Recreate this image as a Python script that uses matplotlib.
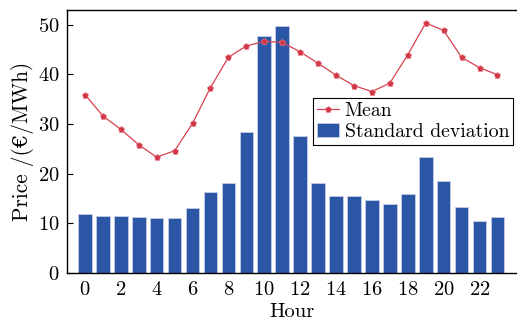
import matplotlib
matplotlib.use("Agg")
import matplotlib.pyplot as plt
import numpy as np

hours = list(range(24))
std_dev = [11.8, 11.5, 11.5, 11.25, 11.0, 11.0, 13.1, 16.2, 18.1, 28.4, 47.7, 49.8,
           27.6, 18.1, 15.5, 15.5, 14.6, 13.9, 15.8, 23.3, 18.5, 13.3, 10.5, 11.2]
mean = [35.9, 31.6, 28.9, 25.8, 23.3, 24.6, 30.1, 37.3, 43.4, 45.7, 46.6, 46.4,
        44.5, 42.2, 39.8, 37.7, 36.5, 38.2, 43.9, 50.3, 48.8, 43.4, 41.3, 39.9]
xticks = list(range(0, 24, 2))
yticks = [0, 10, 20, 30, 40, 50]

plt.rcParams['font.family'] = ['cmr10', 'DejaVu Serif']
plt.rcParams['axes.formatter.use_mathtext'] = True
fs = 14.8

fig = plt.figure(figsize=(5.17, 3.2), dpi=100)
ax = fig.add_axes([0.1296, 0.147, 0.869, 0.823])

ax.bar(hours, std_dev, width=0.76, color='#2b55a5', edgecolor='#c8cce6',
       linewidth=0.6, label='Standard deviation', zorder=2)
ax.plot(hours, mean, color='#d8404f', lw=0.9, marker='p', markersize=4.5,
        markerfacecolor='#d03848', markeredgecolor='#f08090', markeredgewidth=0.4,
        label='Mean', zorder=3)

ax.set_xlim(-1, 24.05)
ax.set_ylim(0, 53)
ax.set_xticks(xticks)
ax.set_yticks(yticks)
ax.tick_params(direction='in', length=4, width=0.8, labelsize=fs)
ax.tick_params(axis='x', pad=6)
ax.tick_params(axis='y', pad=5.5)
ax.spines['right'].set_visible(False)
for s in ['left', 'bottom', 'top']:
    ax.spines[s].set_linewidth(1.0)

ax.set_xlabel('Hour', fontsize=fs, labelpad=3)
ax.set_ylabel('Price /(€/MWh)', fontsize=fs + 0.5, labelpad=3)

handles, labels = ax.get_legend_handles_labels()
leg = ax.legend(handles, labels, loc='upper right',
                bbox_to_anchor=(0.993, 0.663), fancybox=False, framealpha=1,
                edgecolor='black', borderpad=0.2, handlelength=1.1,
                handletextpad=0.3, labelspacing=0.15, borderaxespad=0,
                fontsize=14.2)
leg.get_frame().set_linewidth(0.8)

fig.savefig('out.png', dpi=100)
